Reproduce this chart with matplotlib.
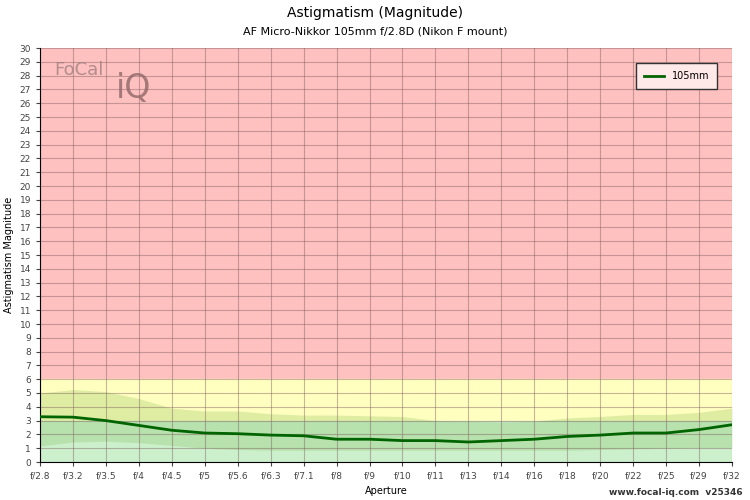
import matplotlib
matplotlib.use('Agg')
from matplotlib import pyplot as plt

apertures = ['f/2.8', 'f/3.2', 'f/3.5', 'f/4', 'f/4.5', 'f/5', 'f/5.6', 'f/6.3', 'f/7.1', 'f/8', 'f/9',
             'f/10', 'f/11', 'f/13', 'f/14', 'f/16', 'f/18', 'f/20', 'f/22', 'f/25', 'f/29', 'f/32']
magnitude = [3.28, 3.25, 3.0, 2.65, 2.3, 2.1, 2.05, 1.95, 1.9, 1.65, 1.65,
             1.55, 1.55, 1.45, 1.55, 1.65, 1.85, 1.95, 2.1, 2.1, 2.35, 2.7]
band_hi = [5.0, 5.25, 5.1, 4.6, 3.9, 3.7, 3.7, 3.5, 3.4, 3.4, 3.35,
           3.3, 3.0, 2.95, 2.9, 2.95, 3.2, 3.3, 3.45, 3.45, 3.6, 3.9]
band_lo = [1.15, 1.45, 1.5, 1.4, 1.2, 1.0, 0.9, 0.85, 0.85, 0.85, 0.85,
           0.85, 0.85, 0.85, 0.85, 0.85, 0.85, 0.9, 0.95, 1.0, 1.05, 1.05]

x = list(range(len(apertures)))

fig = plt.figure(figsize=(7.5, 5), dpi=100)
ax = fig.add_axes([40 / 750, 38 / 500, 692 / 750, 414 / 500])

ax.axhspan(6, 30, color='#ffc0c0', zorder=0)
ax.axhspan(3, 6, color='#ffffc0', zorder=0)
ax.axhspan(0, 3, color='#ccf0cc', zorder=0)
ax.fill_between(x, band_lo, band_hi, color='#70b040', alpha=0.22, lw=0, zorder=1)
ax.plot(x, magnitude, color='#006400', lw=2, zorder=3, label='105mm')

ax.set_xlim(0, len(x) - 1)
ax.set_ylim(0, 30)
ax.set_xticks(x)
ax.set_xticklabels(apertures)
ax.set_yticks(range(31))
ax.grid(True, color='#806060', alpha=0.45, lw=0.8)
ax.tick_params(labelsize=6.5, colors='#444444', length=3)
for s in ['top', 'right']:
    ax.spines[s].set_visible(False)

ax.set_xlabel('Aperture', fontsize=7)
ax.set_ylabel('Astigmatism Magnitude', fontsize=7)
fig.text(0.5, 0.965, 'Astigmatism (Magnitude)', ha='center', fontsize=10)
fig.text(0.5, 0.93, 'AF Micro-Nikkor 105mm f/2.8D (Nikon F mount)', ha='center', fontsize=8)
fig.text(0.99, 0.01, 'www.focal-iq.com  v25346', ha='right', fontsize=6.5, color='#333333',
         fontweight='bold')

ax.text(0.02, 0.935, 'FoCal', transform=ax.transAxes, fontsize=13, color='#a08080', alpha=0.8)
ax.text(0.11, 0.88, 'iQ', transform=ax.transAxes, fontsize=24, color='#906868', alpha=0.8)

leg = ax.legend(loc='upper right', bbox_to_anchor=(0.985, 0.975), fontsize=7, fancybox=False,
                edgecolor='#333333', framealpha=1, borderpad=0.8)
leg.get_frame().set_facecolor('#ffe8e8')

fig.savefig('out.png', dpi=100)
